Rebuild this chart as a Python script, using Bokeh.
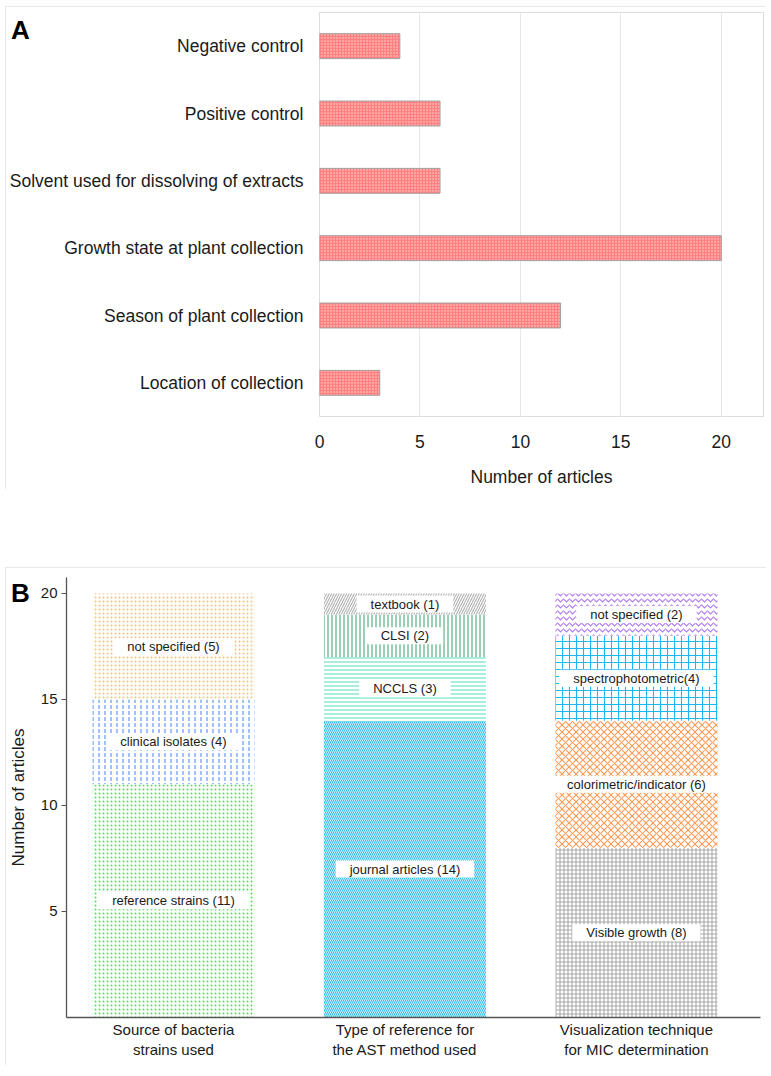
from bokeh.plotting import figure
from bokeh.models import (ColumnDataSource, FactorRange, Range1d, FixedTicker, Div)
from bokeh.core.properties import value
from bokeh.embed import file_html
from bokeh.resources import INLINE

# ---------------- Panel A data ----------------
a_items = ["Negative control", "Positive control",
           "Solvent used for dissolving of extracts",
           "Growth state at plant collection", "Season of plant collection",
           "Location of collection"]
a_counts = [4, 6, 6, 20, 12, 3]
a_ticks = [0, 5, 10, 15, 20]

# ---------------- Panel B data ----------------
b_cats = ["Source of bacteria\nstrains used",
          "Type of reference for\nthe AST method used",
          "Visualization technique\nfor MIC determination"]
src_labels = ["reference strains (11)", "clinical isolates (4)", "not specified (5)"]
src_values = [11, 4, 5]
ref_labels = ["journal articles (14)", "NCCLS (3)", "CLSI (2)", "textbook (1)"]
ref_values = [14, 3, 2, 1]
vis_labels = ["Visible growth (8)", "colorimetric/indicator (6)",
              "spectrophotometric(4)", "not specified (2)"]
vis_values = [8, 6, 4, 2]
b_ticks = [5, 10, 15, 20]

# styles (colour, hatch pattern, scale) per segment
src_styles = [("#4fe04f", "dot", 4), ("#4f8ff7", "vertical_dash", 6), ("#ffbf70", "dot", 4)]
ref_styles = [("#2fb8e8", "left_diagonal_line", 4), ("#5fe0c0", "horizontal_line", 4),
              ("#46a878", "vertical_line", 4), ("#b0b0b0", "right_diagonal_line", 5)]
vis_styles = [("#a8a8a8", "cross", 4), ("#ff9a55", "diagonal_cross", 7),
              ("#1cb6f0", "cross", 7), ("#b07cf0", "horizontal_wave", 6)]

FONT = "Liberation Sans"

# ================= Panel A =================
pa = figure(width=761, height=483, output_backend="svg", toolbar_location=None,
            y_range=FactorRange(factors=a_items[::-1]), x_range=Range1d(0, 22.1),
            min_border_left=314, min_border_right=3, min_border_top=6, min_border_bottom=67,
            background_fill_color="white", border_fill_color="white")
pa.margin = (6, 0, 0, 5)
pa.styles = {"outline": "1px solid #e2e2e2", "outline-offset": "-1px"}
pa.outline_line_color = "#dcdcdc"
src_a = ColumnDataSource(dict(item=a_items, count=a_counts))
pa.hbar(y="item", right="count", left=0, height=0.37, source=src_a,
        fill_color="#ff8080", line_color="#a0a0a0", line_width=1,
        hatch_pattern="dot", hatch_color="#ffd6d6", hatch_scale=3, hatch_weight=1)
pa.xgrid.grid_line_color = "#e6e6e6"
pa.ygrid.grid_line_color = None
pa.xaxis.ticker = FixedTicker(ticks=a_ticks)
pa.xaxis.axis_label = "Number of articles"
for ax in (pa.xaxis[0], pa.yaxis[0]):
    ax.axis_line_color = None
    ax.major_tick_line_color = None
    ax.minor_tick_line_color = None
    ax.major_label_text_font = FONT
    ax.major_label_text_font_size = "17.5px"
    ax.major_label_text_color = "#1a1a1a"
    ax.axis_label_text_font = FONT
    ax.axis_label_text_font_size = "17.5px"
    ax.axis_label_text_font_style = "normal"
    ax.axis_label_text_color = "#1a1a1a"
pa.yaxis.major_label_standoff = 10
pa.xaxis.major_label_standoff = 12
pa.xaxis.axis_label_standoff = 16

# ================= Panel B =================
pb = figure(width=761, height=498, output_backend="svg", toolbar_location=None,
            x_range=Range1d(0.538, 3.536), y_range=Range1d(0, 20.75),
            min_border_left=61, min_border_right=6, min_border_top=10, min_border_bottom=48,
            background_fill_color="white", border_fill_color="white")
pb.styles = {"outline": "1px solid #e2e2e2", "outline-offset": "-1px"}
pb.margin = (78, 0, 0, 5)
pb.outline_line_color = None
pb.grid.grid_line_color = None

seg = dict(x=[], bottom=[], top=[], mid=[], label=[], color=[], hatch=[], scale=[])
for i, (labels, values, styles) in enumerate([(src_labels, src_values, src_styles),
                                               (ref_labels, ref_values, ref_styles),
                                               (vis_labels, vis_values, vis_styles)]):
    base = 0
    for lab, v, st in zip(labels, values, styles):
        seg["x"].append(i + 1)
        seg["bottom"].append(base)
        seg["top"].append(base + v)
        seg["mid"].append(base + v / 2)
        seg["label"].append(lab)
        seg["color"].append(st[0])
        seg["hatch"].append(st[1])
        seg["scale"].append(st[2])
        base += v
src_b = ColumnDataSource(seg)
pb.vbar(x="x", bottom="bottom", top="top", width=0.70, source=src_b,
        fill_color="white", line_color=None,
        hatch_pattern="hatch", hatch_color="color", hatch_scale="scale", hatch_weight=1.1)
pb.text(x="x", y="mid", text="label", source=src_b, text_align="center",
        text_baseline="middle", text_font=value(FONT), text_font_size="13px",
        text_color="#1a1a1a", background_fill_color="white",
        padding=dict(x=14, y=1))

pb.yaxis.ticker = FixedTicker(ticks=b_ticks)
pb.xaxis.ticker = FixedTicker(ticks=[1, 2, 3])
pb.xaxis.major_label_overrides = {i + 1: c for i, c in enumerate(b_cats)}
pb.yaxis.axis_label = "Number of articles"
for ax in (pb.xaxis[0], pb.yaxis[0]):
    ax.axis_line_color = "#555555"
    ax.axis_line_width = 1.3
    ax.minor_tick_line_color = None
    ax.major_label_text_font = FONT
    ax.major_label_text_color = "#1a1a1a"
    ax.axis_label_text_font = FONT
    ax.axis_label_text_font_style = "normal"
    ax.axis_label_text_color = "#1a1a1a"
pb.xaxis.major_tick_line_color = None
pb.xaxis.major_tick_out = 0
pb.xaxis.major_tick_in = 0
pb.xaxis.major_label_text_font_size = "15px"
pb.xaxis.major_label_standoff = 3
pb.yaxis.major_tick_line_color = "#555555"
pb.yaxis.major_tick_out = 5
pb.yaxis.major_tick_in = 0
pb.yaxis.major_label_text_font_size = "15px"
pb.yaxis.major_label_standoff = 4
pb.yaxis.axis_label_text_font_size = "17px"
pb.yaxis.axis_label_standoff = 10

# panel letters
letter_style = {"position": "absolute", "font-family": FONT, "font-weight": "bold",
                "font-size": "26px", "color": "black", "line-height": "26px"}
div_a = Div(text="A", width=30, height=30, styles=dict(letter_style, left="6px", top="12px"))
div_b = Div(text="B", width=30, height=30, styles=dict(letter_style, left="6px", top="575px"))

open("out.html", "w").write(file_html([pa, pb, div_a, div_b], INLINE))
